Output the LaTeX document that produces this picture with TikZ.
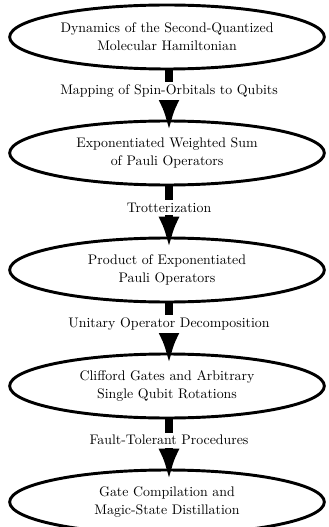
\documentclass[tikz,border=0pt]{standalone}
\usetikzlibrary{shapes.geometric,arrows.meta}
\begin{document}
\begin{tikzpicture}[x=0.75pt,y=-0.75pt,
  font=\fontsize{10.4}{13.4}\selectfont,
  stage/.style={draw,ellipse,line width=2.2pt,minimum width=236pt,minimum height=48pt,align=center,inner sep=0pt},
  flow/.style={line width=6pt,-{Latex[length=24pt,width=16pt]},shorten >=-9pt},
  lab/.style={fill=white,inner sep=2pt,pos=0.42}]
\useasboundingbox (0,0) rectangle (328,527);
\node[stage] (a) at (167,37) {Dynamics of the Second-Quantized\\Molecular Hamiltonian};
\node[stage] (b) at (167,153) {Exponentiated Weighted Sum\\of Pauli Operators};
\node[stage] (c) at (167,270) {Product of Exponentiated\\Pauli Operators};
\node[stage] (d) at (167,386) {Clifford Gates and Arbitrary\\Single Qubit Rotations};
\node[stage] (e) at (167,502) {Gate Compilation and\\Magic-State Distillation};
\draw[flow] ([xshift=1.5pt]a.south) -- node[lab] {Mapping of Spin-Orbitals to Qubits} ([xshift=1.5pt]b.north);
\draw[flow] ([xshift=1.5pt]b.south) -- node[lab] {Trotterization} ([xshift=1.5pt]c.north);
\draw[flow] ([xshift=1.5pt]c.south) -- node[lab] {Unitary Operator Decomposition} ([xshift=1.5pt]d.north);
\draw[flow] ([xshift=1.5pt]d.south) -- node[lab] {Fault-Tolerant Procedures} ([xshift=1.5pt]e.north);
\end{tikzpicture}
\end{document}
